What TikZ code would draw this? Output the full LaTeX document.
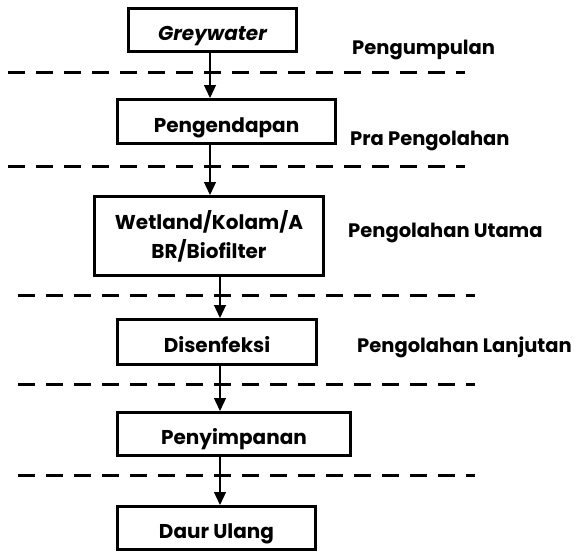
\documentclass[tikz,border=0pt]{standalone}
\usepackage{fontspec}
\setmainfont{Poppins}
\usetikzlibrary{arrows.meta}
\tikzset{
  stagebox/.style={draw=black, line width=3pt, fill=white, inner sep=0pt,
    font=\fontsize{20}{29}\selectfont\bfseries, align=center},
  oneline/.style={text height=21pt, text depth=0pt},
  stagelabel/.style={anchor=base west, inner sep=0pt,
    font=\fontsize{19.5}{24}\selectfont\bfseries},
  stageline/.style={line width=3pt, dash pattern=on 17pt off 11pt},
  flow/.style={line width=1.3pt, -{Triangle[length=13pt,width=12pt]}},
}
\begin{document}
\begin{tikzpicture}[x=1pt, y=-1pt]
\useasboundingbox (0,0) rectangle (579,552);

% stage separators
\draw[stageline] (8,72) -- (465,72);
\draw[stageline] (8,166) -- (465,166);
\draw[stageline] (18,295) -- (475,295);
\draw[stageline] (18,384) -- (475,384);
\draw[stageline] (18,475) -- (475,475);

% process boxes
\node[stagebox, oneline, minimum width=168pt, minimum height=43pt] (grey) at (212.5,30) {\itshape Greywater};
\node[stagebox, oneline, minimum width=218pt, minimum height=44pt] (endap) at (226.5,121.5) {Pengendapan};
\node[stagebox, minimum width=229pt, minimum height=79pt] (utama) at (209,236) {Wetland/Kolam/A\\BR/Biofilter};
\node[stagebox, oneline, minimum width=199pt, minimum height=45pt] (desinf) at (217,342) {Disenfeksi};
\node[stagebox, oneline, minimum width=233pt, minimum height=43pt] (simpan) at (234,434) {Penyimpanan};
\node[stagebox, oneline, minimum width=198pt, minimum height=43pt] (daur) at (216.5,528) {Daur Ulang};

% stage labels
\node[stagelabel] (l1) at (352,54) {Pengumpulan};
\node[stagelabel] (l2) at (350,145) {Pra Pengolahan};
\node[stagelabel] (l3) at (348,237) {Pengolahan Utama};
\node[stagelabel] (l4) at (357,352) {Pengolahan Lanjutan};

% flow arrows
\coordinate (colA) at (210,0);
\coordinate (colB) at (220,0);
\draw[flow] (grey.south -| colA) -- (endap.north -| colA);
\draw[flow] (endap.south -| colA) -- (utama.north -| colA);
\draw[flow] (utama.south -| colB) -- (desinf.north -| colB);
\draw[flow] (desinf.south -| colB) -- (simpan.north -| colB);
\draw[flow] (simpan.south -| colB) -- (daur.north -| colB);
\end{tikzpicture}
\end{document}
